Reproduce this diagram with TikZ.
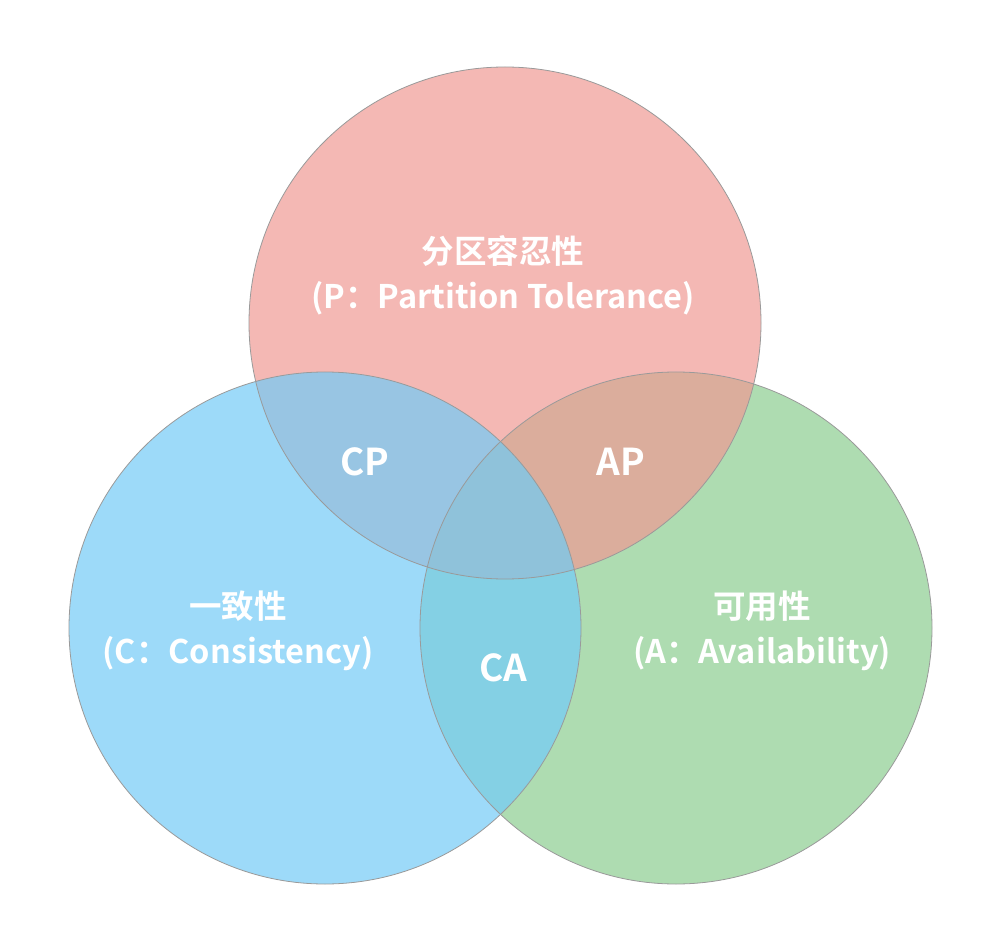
\documentclass[tikz,border=0pt]{standalone}
\usepackage{fontspec}
\newfontfamily\cjk{Noto Sans CJK SC}[BoldFont={* Bold}]
\definecolor{pOnly}{HTML}{F4B8B4}
\definecolor{cOnly}{HTML}{9DDAF9}
\definecolor{aOnly}{HTML}{AEDCB1}
\definecolor{cpReg}{HTML}{98C5E3}
\definecolor{apReg}{HTML}{DBAD9C}
\definecolor{caReg}{HTML}{84D0E4}
\definecolor{allReg}{HTML}{8FC2DA}
\definecolor{edge}{HTML}{9A9A9A}
\tikzset{
  lbl/.style={text=white, font=\cjk\bfseries\fontsize{32.5}{45}\selectfont, align=center, inner sep=0pt},
  pair/.style={text=white, font=\cjk\bfseries\fontsize{37}{42}\selectfont, inner sep=0pt},
  ring/.style={draw=edge, line width=0.8pt}
}
\begin{document}
\begin{tikzpicture}[x=1pt,y=-1pt]
\useasboundingbox[fill=white] (0,0) rectangle (996,949);
\def\R{256}
\coordinate (P) at (505,323);
\coordinate (C) at (325,628);
\coordinate (A) at (676,628);
% single regions
\fill[aOnly] (A) circle (\R);
\fill[pOnly] (P) circle (\R);
\fill[cOnly] (C) circle (\R);
% pairwise
\begin{scope}\clip (P) circle (\R); \fill[cpReg] (C) circle (\R);\end{scope}
\begin{scope}\clip (P) circle (\R); \fill[apReg] (A) circle (\R);\end{scope}
\begin{scope}\clip (C) circle (\R); \fill[caReg] (A) circle (\R);\end{scope}
\begin{scope}\clip (C) circle (\R); \clip (A) circle (\R); \fill[allReg] (P) circle (\R);\end{scope}
% outlines
\draw[ring] (P) circle (\R);
\draw[ring] (C) circle (\R);
\draw[ring] (A) circle (\R);
% labels
\node[lbl] (pl) at (503,275) {分区容忍性\\(P：Partition Tolerance)};
\node[lbl] (cl) at (238,631) {一致性\\(C：Consistency)};
\node[lbl] (al) at (762,631) {可用性\\(A：Availability)};
\node[pair] (cp) at (365,462) {CP};
\node[pair] (ap) at (621,462) {AP};
\node[pair] (ca) at (503,668) {CA};
\end{tikzpicture}
\end{document}
